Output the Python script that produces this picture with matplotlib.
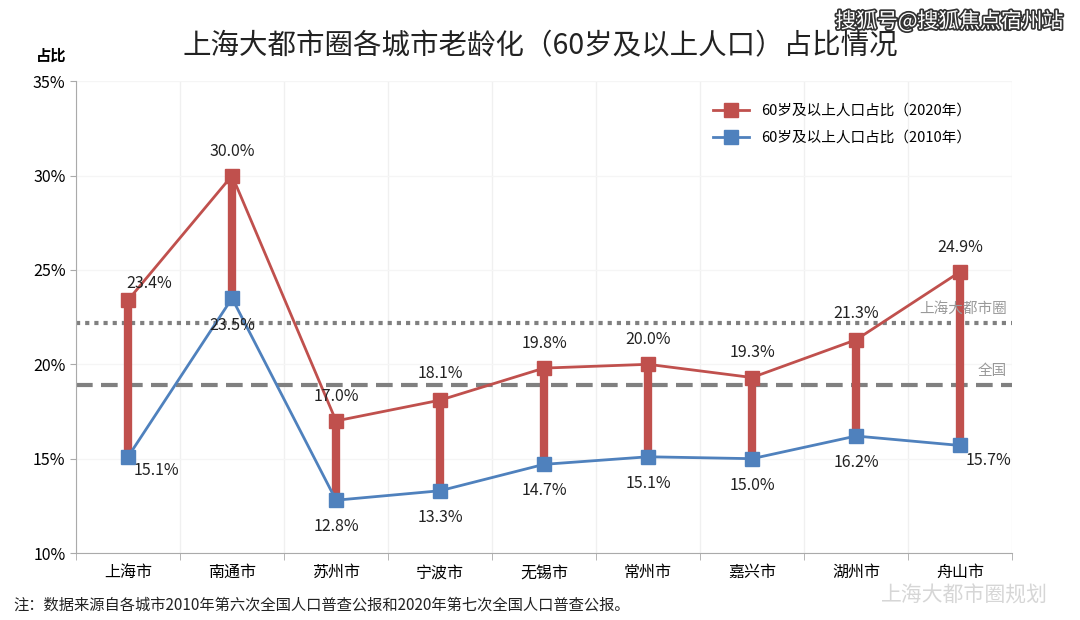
import matplotlib
matplotlib.use("Agg")
import matplotlib.pyplot as plt
import matplotlib.patheffects as pe
import numpy as np

plt.rcParams['font.family'] = ['Noto Sans CJK SC', 'DejaVu Sans']
plt.rcParams['axes.unicode_minus'] = False

cities = ['上海市', '南通市', '苏州市', '宁波市', '无锡市', '常州市', '嘉兴市', '湖州市', '舟山市']
v2020 = [23.4, 30.0, 17.0, 18.1, 19.8, 20.0, 19.3, 21.3, 24.9]
v2010 = [15.1, 23.5, 12.8, 13.3, 14.7, 15.1, 15.0, 16.2, 15.7]
metro_avg = 22.2
national_avg = 18.9

red = '#C0504D'
blue = '#4F81BD'

fig = plt.figure(figsize=(10.8, 6.2), dpi=100)
ax = fig.add_axes([0.0704, 0.108, 0.8667, 0.761])
x = np.arange(len(cities))

# 红色高低连线
ax.vlines(x, v2010, v2020, color=red, linewidth=6, zorder=3)
ax.plot(x, v2020, color=red, marker='s', markersize=10, linewidth=2, zorder=4,
        label='60岁及以上人口占比（2020年）')
ax.plot(x, v2010, color=blue, marker='s', markersize=10, linewidth=2, zorder=4,
        label='60岁及以上人口占比（2010年）')

ax.axhline(metro_avg, color='#808080', linestyle=(0, (1, 1.2)), linewidth=3, zorder=2)
ax.axhline(national_avg, color='#808080', linestyle=(0, (4, 2)), linewidth=3, zorder=2)
ax.text(8.45, metro_avg + 0.35, '上海大都市圈', color='#999999', fontsize=10.5, ha='right', va='bottom')
ax.text(8.45, national_avg + 0.35, '全国', color='#999999', fontsize=10.5, ha='right', va='bottom')

# 数据标签
off20 = [(0.2, 0.9), (0, 1.3), (0, 1.3), (0, 1.4), (0, 1.3), (0, 1.3), (0, 1.3), (0, 1.4), (0, 1.3)]
off10 = [(0.27, -0.75), (0, -1.45), (0, -1.4), (0, -1.4), (0, -1.4), (0, -1.4), (0, -1.4), (0, -1.4), (0.27, -0.8)]
for i in range(len(cities)):
    dx, dy = off20[i]
    ax.text(x[i] + dx, v2020[i] + dy, f'{v2020[i]:.1f}%', fontsize=11.5, ha='center', va='center',
            color='#222222', zorder=5)
    dx, dy = off10[i]
    ax.text(x[i] + dx, v2010[i] + dy, f'{v2010[i]:.1f}%', fontsize=11.5, ha='center', va='center',
            color='#222222', zorder=5)

ax.set_xlim(-0.5, len(cities) - 0.5)
ax.set_ylim(10, 35)
ax.set_yticks([10, 15, 20, 25, 30, 35])
ax.set_yticklabels(['10%', '15%', '20%', '25%', '30%', '35%'], fontsize=11.5)
ax.set_xticks(x)
ax.set_xticklabels(cities, fontsize=11.5)
ax.set_xticks(np.arange(-0.5, len(cities)), minor=True)
ax.tick_params(axis='x', which='major', length=0, pad=8)
ax.tick_params(axis='x', which='minor', length=5, color='#aaaaaa')
ax.tick_params(axis='y', length=4, color='#aaaaaa')
ax.grid(axis='x', which='minor', color='#f0f0f0', linewidth=1)
ax.grid(axis='y', color='#f5f5f5', linewidth=1)
for s in ['top', 'right']:
    ax.spines[s].set_visible(False)
ax.spines['left'].set_color('#aaaaaa')
ax.spines['bottom'].set_color('#aaaaaa')

ax.legend(loc='upper right', bbox_to_anchor=(0.97, 0.98), frameon=False, fontsize=10.5,
          handlelength=2.5, labelspacing=0.9)

fig.text(0.5, 0.925, '上海大都市圈各城市老龄化（60岁及以上人口）占比情况', fontsize=20.5,
         ha='center', va='center', color='#222222')
fig.text(0.047, 0.91, '占比', fontsize=11, fontweight='bold', ha='center', va='center')
fig.text(0.012, 0.024, '注：数据来源自各城市2010年第六次全国人口普查公报和2020年第七次全国人口普查公报。',
         fontsize=11, ha='left', va='center', color='#222222')

wm = fig.text(0.985, 0.965, '搜狐号@搜狐焦点宿州站', fontsize=15, ha='right', va='center', color='white')
wm.set_path_effects([pe.withStroke(linewidth=2.5, foreground='#333333')])
fig.text(0.97, 0.04, '上海大都市圈规划', fontsize=15, ha='right', va='center', color='#cccccc', alpha=0.8)

fig.savefig('out.png', dpi=100)
